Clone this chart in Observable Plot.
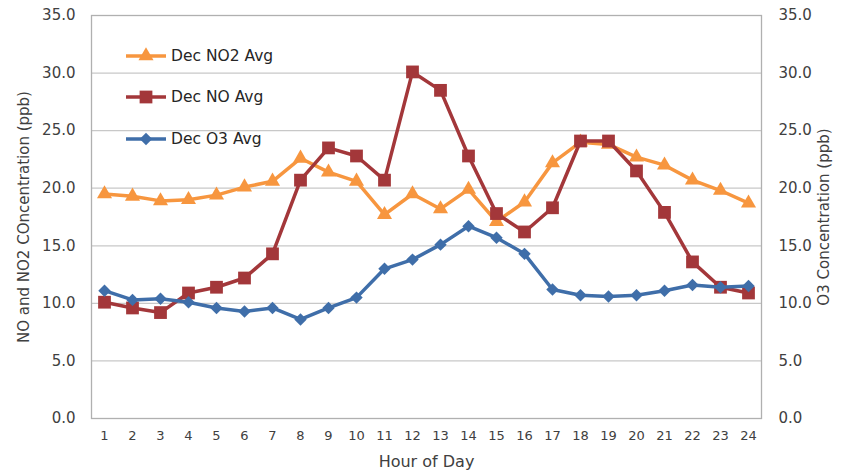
<!DOCTYPE html>
<html>
<head>
<meta charset="utf-8">
<script src="https://cdn.jsdelivr.net/npm/d3@7"></script>
<script src="https://cdn.jsdelivr.net/npm/@observablehq/plot@0.6"></script>
<style>
  html, body { margin: 0; padding: 0; background: #fff; }
  #wrap { position: relative; width: 845px; height: 474px; font-family: "DejaVu Sans", sans-serif; color: #404040; }
  #legend { position: absolute; left: 124px; top: 35px; }
  .item { display: flex; align-items: center; height: 41.5px; font-size: 15.5px; color: #262626; }
  .item svg { margin-right: 3px; }
</style>
</head>
<body>
<div id="wrap"><div id="legend"></div></div>
<script>
const hours = d3.range(1, 25);
const no2 = [19.5, 19.3, 18.9, 19.0, 19.4, 20.1, 20.6, 22.6, 21.4, 20.6, 17.7, 19.5, 18.2, 19.9, 17.1, 18.8, 22.2, 24.0, 23.8, 22.7, 22.0, 20.7, 19.8, 18.7];
const no  = [10.1, 9.6, 9.2, 10.9, 11.4, 12.2, 14.3, 20.7, 23.5, 22.8, 20.7, 30.1, 28.5, 22.8, 17.8, 16.2, 18.3, 24.1, 24.1, 21.5, 17.9, 13.6, 11.4, 10.9];
const o3  = [11.1, 10.3, 10.4, 10.1, 9.6, 9.3, 9.6, 8.6, 9.6, 10.5, 13.0, 13.8, 15.1, 16.7, 15.7, 14.3, 11.2, 10.7, 10.6, 10.7, 11.1, 11.6, 11.4, 11.5];
const yTicks = [0, 5, 10, 15, 20, 25, 30, 35];

const series = [
  {name: "Dec NO2 Avg", values: no2, color: "#F7963F", symbol: "triangle", r: 5.6},
  {name: "Dec NO Avg", values: no, color: "#A3373A", symbol: "square", r: 7.2},
  {name: "Dec O3 Avg", values: o3, color: "#3F6EA9", symbol: "diamond2", r: 5.6}
];
const rows = series.flatMap(s => s.values.map((v, i) => ({hour: hours[i], value: v, name: s.name})));

const marks = [
  Plot.gridY(yTicks.filter(t => t > 0 && t < 35), {stroke: "#c8c8c8", strokeOpacity: 1, strokeWidth: 1.2}),
  Plot.frame({stroke: "#b0b0b0", strokeWidth: 1.3}),
  Plot.axisY({ticks: yTicks, tickFormat: d => d.toFixed(1), tickSize: 0, tickPadding: 16, fontSize: 15,
    label: "NO and NO2 COncentration (ppb)", labelAnchor: "center", labelArrow: false, labelOffset: 73}),
  Plot.axisY({anchor: "right", ticks: yTicks, tickFormat: d => d.toFixed(1), tickSize: 0, tickPadding: 17, fontSize: 15,
    label: "O3 Concentration (ppb)", labelAnchor: "center", labelArrow: false, labelOffset: 67}),
  Plot.axisX({tickSize: 0, tickPadding: 12, fontSize: 13, label: null}),
  Plot.axisX({ticks: [], tickSize: 0, fontSize: 16, label: "Hour of Day", labelAnchor: "center", labelArrow: false, labelOffset: 48})
];
for (const s of series) {
  const d = rows.filter(r => r.name === s.name);
  marks.push(Plot.line(d, {x: "hour", y: "value", stroke: s.color, strokeWidth: 3.5}));
  marks.push(Plot.dot(d, {x: "hour", y: "value", fill: s.color, symbol: () => s.symbol, r: s.r, stroke: "none"}));
}

const chart = Plot.plot({
  width: 845, height: 474,
  marginLeft: 91, marginRight: 84, marginTop: 15, marginBottom: 56,
  style: {fontFamily: "DejaVu Sans, sans-serif", fontSize: "15px", color: "#404040", background: "white"},
  x: {type: "point", domain: hours, padding: 0.25, label: "Hour of Day"},
  y: {domain: [0, 35], label: null},
  marks
});
document.getElementById("wrap").prepend(chart);

// Legend
const legend = d3.select("#legend");
for (const s of series) {
  const item = legend.append("div").attr("class", "item");
  const svg = item.append("svg").attr("width", 44).attr("height", 18);
  svg.append("line").attr("x1", 2).attr("x2", 42).attr("y1", 9).attr("y2", 9).attr("stroke", s.color).attr("stroke-width", 3.5);
  const sym = {triangle: d3.symbolTriangle, square: d3.symbolSquare, diamond2: d3.symbolDiamond2}[s.symbol];
  svg.append("path").attr("transform", "translate(22,9)").attr("d", d3.symbol(sym, Math.PI * s.r * s.r)()).attr("fill", s.color);
  item.append("span").text(s.name);
}
</script>
</body>
</html>
